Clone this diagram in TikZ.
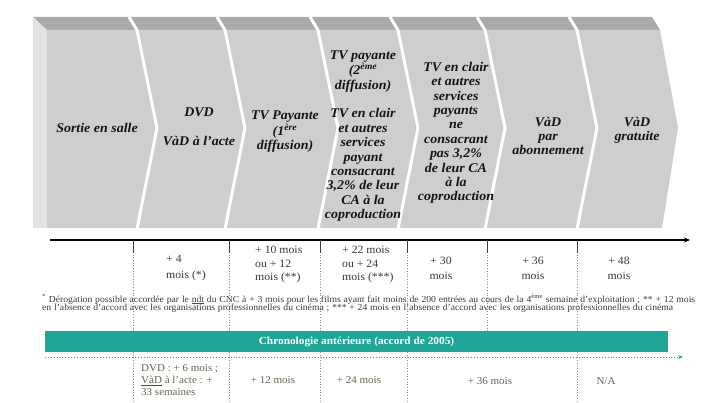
\documentclass[tikz,border=0pt]{standalone}
\usepackage{fontspec}
\setmainfont{Liberation Serif}[FakeStretch=1.05]
\usetikzlibrary{arrows.meta}
\definecolor{chev}{HTML}{CECECE}
\definecolor{topband}{HTML}{A9A9A9}
\definecolor{sideface}{HTML}{E3E3E3}
\definecolor{tealbar}{HTML}{20A699}
\definecolor{bottomtext}{HTML}{5E6A52}
\definecolor{tltextcol}{HTML}{3A3A3A}
\newcommand\redul[1]{\textcolor{red}{\underline{\textcolor{bottomtext}{#1}}}}
\newcommand\redulfn[1]{\textcolor{red}{\underline{\textcolor{tltextcol}{#1}}}}
\tikzset{
  chevtext/.style={align=center, text=black!92, font=\fontsize{13.3}{14.4}\selectfont\bfseries\itshape, inner sep=0pt},
  tltext/.style={align=left, text=tltextcol, font=\fontsize{11.2}{13.7}\selectfont, inner sep=0pt},
  tlctext/.style={align=center, text=tltextcol, font=\fontsize{11.2}{15}\selectfont, inner sep=0pt},
  fntext/.style={anchor=west, text=tltextcol, font=\fontsize{9.2}{9}\selectfont, inner sep=0pt},
  bttext/.style={text=bottomtext, font=\fontsize{10.5}{12}\selectfont, inner sep=0pt},
  axisline/.style={black, line width=1.1pt, -{Stealth[length=6pt,width=5pt]}},
  tickline/.style={black!75, line width=0.8pt},
  vdot/.style={black!45, line width=0.7pt, dotted},
  gapline/.style={white, line width=3pt, line join=miter},
  barnode/.style={fill=tealbar, text=white, minimum width=623pt, minimum height=21pt, inner sep=0pt, font=\fontsize{10.8}{12}\selectfont\bfseries},
  tealarrow/.style={tealbar, line width=0.9pt, dotted, -{Stealth[length=5pt,width=4pt]}}
}
\begin{document}
\begin{tikzpicture}[x=1pt,y=-1pt]
\useasboundingbox (0,0) rectangle (717,403);
\fill[white] (0,0) rectangle (717,403);
% 3D chevron band
\fill[topband] (33,17) -- (652,17) -- (660,30) -- (47,30) -- cycle;
\fill[sideface] (33,17) -- (47,30) -- (47,228) -- (33,228) -- cycle;
\fill[chev] (47,30) -- (660,30) -- (678,128) -- (662,228) -- (47,228) -- cycle;
\foreach \a in {137,225,318,398,485,577} {
  \draw[gapline] (\a-8,17) -- (\a,30) -- (\a+20,128) -- (\a,229);
}
% chevron texts
\node[chevtext] (c1) at (97,128) {Sortie en salle};
\node[chevtext] (c2) at (199,127) {DVD\\[14.4pt]VàD à l'acte};
\node[chevtext] (c3) at (285,132) {TV Payante\\(1\textsuperscript{ère}\\diffusion)};
\node[chevtext] (c4) at (363,136) {TV payante\\(2\textsuperscript{ème}\\diffusion)\\[14.4pt]TV en clair\\et autres\\services\\payant\\consacrant\\3,2\% de leur\\CA à la\\coproduction};
\node[chevtext] (c5) at (456,133) {TV en clair\\et autres\\services\\payants\\ne\\consacrant\\pas 3,2\%\\de leur CA\\à la\\coproduction};
\node[chevtext] (c6) at (548,136) {VàD\\par\\abonnement};
\node[chevtext] (c7) at (637,130) {VàD\\gratuite};
% vertical dotted guides
\foreach \x in {133,229,320,407,577} {
  \draw[vdot] (\x,252) -- (\x,403);
}
\draw[vdot] (487,252) -- (487,331);
% axis
\coordinate (ax0) at (50,240);
\coordinate (ax1) at (690,240);
\draw[axisline] (ax0) -- (ax1);
\foreach \x in {133,229,320,407,487,577} {
  \draw[tickline] (\x,240) -- (\x,253);
}
% timeline texts
\node[tltext, anchor=west, font=\fontsize{11.2}{15.7}\selectfont] (t2) at (166,268) {+ 4\\mois (*)};
\node[tltext, anchor=west] (t3) at (255,264.5) {+ 10 mois\\ou + 12\\mois (**)};
\node[tltext, anchor=west] (t4) at (342,264.5) {+ 22 mois\\ou + 24\\mois (***)};
\node[tlctext] (t5) at (441,268) {+ 30\\mois};
\node[tlctext] (t6) at (533,268) {+ 36\\mois};
\node[tlctext] (t7) at (619,268) {+ 48\\mois};
% footnote
\node[fntext] (fn1) at (42,299) {\makebox[653pt][s]{\textsuperscript{*} Dérogation possible accordée par le \redulfn{ndt} du CNC à + 3 mois pour les films ayant fait moins de 200 entrées au cours de la 4\textsuperscript{ème} semaine d'exploitation ; ** + 12 mois}};
\node[fntext] (fn2) at (42,308.5) {\makebox[631pt][s]{en l'absence d'accord avec les organisations professionnelles du cinéma ; *** + 24 mois en l'absence d'accord avec les organisations professionnelles du cinéma}};
% previous chronology bar
\node[barnode] (bar) at (356.5,341.5) {Chronologie antérieure (accord de 2005)};
\coordinate (d0) at (45,357);
\coordinate (d1) at (683,357);
\draw[tealarrow] (d0) -- (d1);
% bottom texts
\node[bttext, anchor=west, align=left] (b2) at (141,380) {DVD : + 6 mois ;\\\redul{VàD} à l'acte : +\\33 semaines};
\node[bttext] (b3) at (273,380) {+ 12 mois};
\node[bttext] (b4) at (359,380) {+ 24 mois};
\node[bttext] (b5) at (490,381) {+ 36 mois};
\node[bttext] (b6) at (606,381) {N/A};
\end{tikzpicture}
\end{document}
